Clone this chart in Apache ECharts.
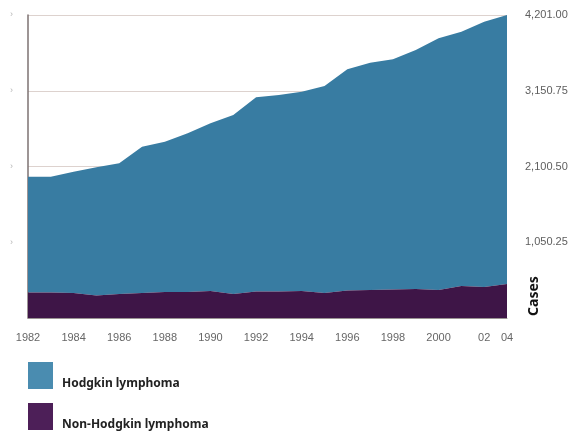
<!DOCTYPE html>
<html><head><meta charset="utf-8">
<script src="https://cdn.jsdelivr.net/npm/echarts@6/dist/echarts.min.js"></script>
<style>html,body{margin:0;padding:0;background:#fff}#c{width:578px;height:435px}</style>
</head><body><div id="c"></div>
<script>
// Categories (years)
const years = ['1982','1983','1984','1985','1986','1987','1988','1989','1990','1991','1992','1993','1994','1995','1996','1997','1998','1999','2000','2001','2002','2003'];
// Tick labels shown under the x axis (one per category, blank = hidden)
const xTickLabels = ['1982','','1984','','1986','','1988','','1990','','1992','','1994','','1996','','1998','','2000','','02','04'];
// Series values (cases)
const hodgkin = [1605,1605,1681,1777,1812,2028,2084,2201,2325,2482,2693,2725,2764,2870,3067,3152,3192,3314,3490,3526,3678,3730];
const nonHodgkin = [354,354,347,312,333,347,360,360,374,333,367,367,374,347,381,388,395,402,388,444,430,471];
// Value-axis ticks
const yTicks = [0, 1050.25, 2100.50, 3150.75, 4201.00];

const chart = echarts.init(document.getElementById('c'));
const fmt = v => v === 0 ? '' : v.toLocaleString('en-US', {minimumFractionDigits: 2, maximumFractionDigits: 2});
const legendText = {
  rich: {t: {fontFamily: 'Noto Sans', fontWeight: 'bold', fontSize: 12, color: '#222', padding: [16, 0, 0, 4]}}
};
const legendFmt = n => '{t|' + n + '}';

chart.setOption({
  animation: false,
  backgroundColor: '#ffffff',
  grid: {left: 28, right: 71, top: 15, bottom: 117},
  legend: [{
    orient: 'vertical', left: 23, top: 357, padding: 5,
    itemWidth: 25, itemHeight: 27, icon: 'rect', itemGap: 4,
    data: ['Hodgkin lymphoma'], formatter: legendFmt, textStyle: legendText
  }, {
    orient: 'vertical', left: 23, top: 398, padding: 5,
    itemWidth: 25, itemHeight: 27, icon: 'rect', itemGap: 4,
    data: ['Non-Hodgkin lymphoma'], formatter: legendFmt, textStyle: legendText
  }],
  xAxis: {
    type: 'category', boundaryGap: false, data: years,
    axisTick: {show: false},
    axisLine: {lineStyle: {color: '#9a9393', width: 1}},
    axisLabel: {interval: 0, margin: 14, fontSize: 11, color: '#666', fontFamily: 'Liberation Sans',
      formatter: (v, i) => xTickLabels[i]}
  },
  yAxis: [{
    type: 'value', position: 'right', min: yTicks[0], max: yTicks[yTicks.length - 1], interval: yTicks[1] - yTicks[0],
    axisLine: {show: false}, axisTick: {show: false},
    splitLine: {lineStyle: {color: '#ddd2ce', width: 1}},
    axisLabel: {margin: 18, fontSize: 11, color: '#5e5e5e', fontFamily: 'Liberation Sans', formatter: fmt}
  }, {
    type: 'value', position: 'left', min: yTicks[0], max: yTicks[yTicks.length - 1], interval: yTicks[1] - yTicks[0],
    axisLine: {show: true, lineStyle: {color: '#7d7272', width: 1.5}}, axisTick: {show: false},
    splitLine: {show: false},
    axisLabel: {margin: 15, fontSize: 9, color: '#b5b5b5', formatter: v => v === 0 ? '' : '›'}
  }],
  graphic: [{
    type: 'text', x: 534, y: 296, rotation: Math.PI / 2,
    style: {text: 'Cases', fontFamily: 'Noto Sans', fontWeight: 'bold', fontSize: 14, fill: '#111', align: 'center', verticalAlign: 'middle'}
  }],
  series: [{
    name: 'Non-Hodgkin lymphoma', type: 'line', stack: 'cases', data: nonHodgkin,
    showSymbol: false, smooth: false,
    itemStyle: {color: '#4d1f58'},
    lineStyle: {width: 0},
    areaStyle: {color: '#3e1547', opacity: 1}, z: 3
  }, {
    name: 'Hodgkin lymphoma', type: 'line', stack: 'cases', data: hodgkin,
    showSymbol: false, smooth: false,
    itemStyle: {color: '#4a8cb0'},
    lineStyle: {width: 0},
    areaStyle: {color: '#387ca2', opacity: 1}, z: 2
  }]
});
</script></body></html>
